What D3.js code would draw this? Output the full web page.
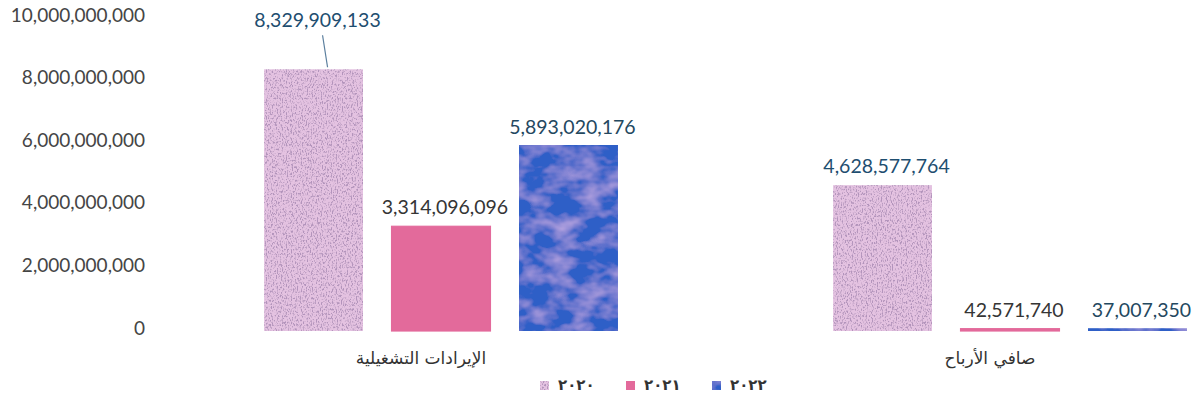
<!DOCTYPE html>
<html><head>
<meta charset="utf-8">
<script src="https://d3js.org/d3.v7.min.js"></script>
<style>
  body { margin: 0; background: #fff; }
  .y.axis text { font-family: Lato, "Open Sans", sans-serif; font-size: 19px; fill: #454545; }
  .vlabel { font-family: Lato, "Open Sans", sans-serif; font-size: 19.5px; }
  .cat { font-family: "DejaVu Sans", sans-serif; font-size: 17px; fill: #333; }
  .legend text { font-family: "DejaVu Sans", sans-serif; font-size: 15px; font-weight: bold; fill: #333; letter-spacing: 5px; }
</style>
</head>
<body>
<svg id="svg1" width="1194" height="400"></svg>
<script>

// data
const categories = ["الإيرادات التشغيلية", "صافي الأرباح"];
const years = ["2020", "2021", "2022"];
const yearLabels = ["٢٠٢٠", "٢٠٢١", "٢٠٢٢"];
const values2020 = [8329909133, 4628577764];
const values2021 = [3314096096, 42571740];
const values2022 = [5893020176, 37007350];
const yTicks = [0, 2000000000, 4000000000, 6000000000, 8000000000, 10000000000];

const seriesValues = {"2020": values2020, "2021": values2021, "2022": values2022};
const fills = {"2020": "#e4c2e1", "2021": "#e36a9b", "2022": "#2f5fc7"};
const labelColors = {"2020": "#1e4e70", "2021": "#353535", "2022": "#24485f"};

let svg1 = d3.select("svg#svg1");

// textures for the scanned look
let defs = svg1.append("defs");
let speck = defs.append("filter").attr("id", "speck")
    .attr("x", 0).attr("y", 0).attr("width", 1).attr("height", 1);
speck.append("feTurbulence").attr("type", "fractalNoise")
    .attr("baseFrequency", "0.8 0.45").attr("numOctaves", 2).attr("seed", 4).attr("result", "noise");
speck.append("feColorMatrix").attr("in", "noise").attr("type", "matrix")
    .attr("values", "0 0 0 0 0.45  0 0 0 0 0.3  0 0 0 0 0.5  5 0 0 0 -2.45")
    .attr("result", "specks");
speck.append("feComposite").attr("in", "specks").attr("in2", "SourceGraphic").attr("operator", "atop");

let blotch = defs.append("filter").attr("id", "blotch")
    .attr("x", 0).attr("y", 0).attr("width", 1).attr("height", 1);
blotch.append("feTurbulence").attr("type", "fractalNoise")
    .attr("baseFrequency", "0.04 0.06").attr("numOctaves", 3).attr("seed", 7).attr("result", "noise");
blotch.append("feColorMatrix").attr("in", "noise").attr("type", "matrix")
    .attr("values", "0 0 0 0 0.55  0 0 0 0 0.42  0 0 0 0 0.78  1.6 0 0 0 -0.65")
    .attr("result", "blot");
blotch.append("feComposite").attr("in", "blot").attr("in2", "SourceGraphic").attr("operator", "atop");

const filters = {"2020": "url(#speck)", "2021": null, "2022": "url(#blotch)"};

// scales
let yScale = d3.scaleLinear().domain([0, 10000000000]).range([331, 18]);

let xScale = d3.scaleBand().domain(categories)
    .range([156.5, 1294.5]).paddingInner(0.328).paddingOuter(0.164);

let xInner = d3.scaleBand().domain(years)
    .range([0, xScale.bandwidth()]).paddingInner(0.224).paddingOuter(0.112);

// y axis, labels only
let leftAxis = d3.axisLeft(yScale).tickValues(yTicks)
    .tickFormat(d3.format(",")).tickSize(0).tickPadding(0);
svg1.append("g").attr("class", "y axis")
    .attr("transform", "translate(145,-3)")
    .call(leftAxis)
    .call(g => g.select(".domain").remove());

// bars
let rows = [];
categories.forEach((c, i) => years.forEach(y => rows.push({cat: c, year: y, value: seriesValues[y][i]})));

let chartArea = svg1.append("g");

chartArea.selectAll("rect.bar").data(rows)
    .join("rect")
    .attr("class", "bar")
    .attr("x", d => xScale(d.cat) + xInner(d.year))
    .attr("width", xInner.bandwidth())
    .attr("y", d => yScale(d.value) - 1)
    .attr("height", d => yScale(0) - yScale(d.value) + 1)
    .attr("fill", d => fills[d.year])
    .attr("stroke", d => d.year == "2020" ? "none" : fills[d.year])
    .attr("stroke-width", 1.2)
    .attr("filter", d => filters[d.year]);

// value labels
const fmt = d3.format(",");
chartArea.selectAll("text.vlabel").data(rows)
    .join("text")
    .attr("class", "vlabel")
    .attr("text-anchor", "middle")
    .attr("x", d => xScale(d.cat) + xInner(d.year) + xInner.bandwidth() / 2 + 4)
    .attr("y", d => d.value > 7000000000 ? yScale(d.value) - 43 : yScale(d.value) - 13)
    .attr("fill", d => labelColors[d.year])
    .text(d => fmt(d.value));

// leader line for the label lifted above the tallest bar
rows.filter(d => d.value > 7000000000).forEach(d => {
  let cx = xScale(d.cat) + xInner(d.year) + xInner.bandwidth() / 2;
  chartArea.append("line")
    .attr("x1", cx + 9).attr("y1", yScale(d.value) - 35)
    .attr("x2", cx + 14).attr("y2", yScale(d.value) - 3)
    .attr("stroke", "#5b7f9e").attr("stroke-width", 1.2);
});

// category labels
svg1.selectAll("text.cat").data(categories)
    .join("text")
    .attr("class", "cat")
    .attr("text-anchor", "middle")
    .attr("direction", "rtl")
    .attr("x", d => xScale(d) + xScale.bandwidth() / 2 - 20)
    .attr("y", 364)
    .text(d => d);

// legend
let legend = svg1.append("g").attr("class", "legend");
let items = legend.selectAll("g").data(years)
    .join("g")
    .attr("transform", (d, i) => `translate(${540 + i * 86},378)`);
items.append("rect")
    .attr("width", 9).attr("height", 9).attr("y", 3)
    .attr("fill", d => fills[d])
    .attr("filter", d => filters[d]);
items.append("text")
    .attr("x", 18).attr("y", 12)
    .text((d, i) => yearLabels[i]);

</script>
</body>
</html>
